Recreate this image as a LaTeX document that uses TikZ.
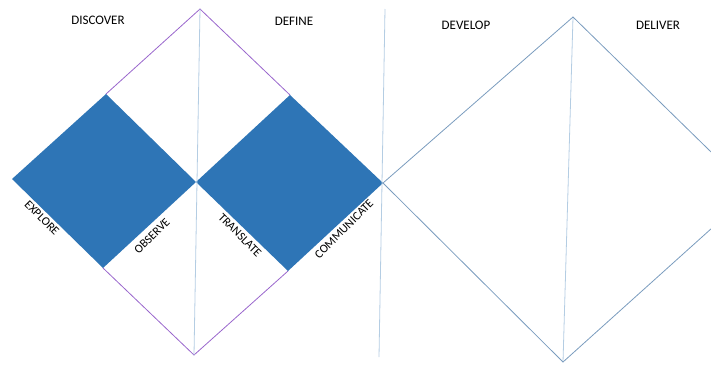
\documentclass[tikz,border=0pt]{standalone}
\usepackage{fontspec}
\setmainfont{Carlito}
\definecolor{sqblue}{HTML}{2E75B6}
\definecolor{purp}{HTML}{9966CC}
\definecolor{steel}{HTML}{7A9CBE}
\definecolor{pale}{HTML}{B4CDE3}
\tikzset{
  sq/.style={fill=sqblue},
  purpline/.style={draw=purp, line width=0.8pt},
  steelline/.style={draw=steel, line width=0.8pt},
  paleline/.style={draw=pale, line width=0.8pt},
  head/.style={font=\fontsize{13}{15}\selectfont, text=black, inner sep=0pt},
  lab/.style={font=\fontsize{12}{14}\selectfont, text=black, inner sep=0pt}
}
\begin{document}
\begin{tikzpicture}[x=1pt,y=-1pt]
\useasboundingbox (0,0) rectangle (711,365);
\clip (0,0) rectangle (711,365);
% coordinates
\coordinate (PT) at (200,9);
\coordinate (PB) at (194,355);
\coordinate (L1l) at (12,179);
\coordinate (L1t) at (106,94);
\coordinate (C1) at (196,182);
\coordinate (L1b) at (103,268);
\coordinate (R1t) at (290,95);
\coordinate (C2) at (383,183);
\coordinate (R1b) at (288,271);
\coordinate (TT) at (573,17);
\coordinate (TB) at (563,362);
\coordinate (TR) at (752,192);
\coordinate (V2t) at (385,9);
\coordinate (V2b) at (379,357);
% squares
\fill[sq] (L1l) -- (L1t) -- (C1) -- (L1b) -- cycle;
\fill[sq] (C1) -- (R1t) -- (C2) -- (R1b) -- cycle;
% purple diamond
\draw[purpline] (L1t) -- (PT) -- (R1t);
\draw[purpline] (L1b) -- (PB) -- (R1b);
% vertical lines
\draw[paleline] (PT) -- (PB);
\draw[paleline] (V2t) -- (V2b);
\draw[paleline] (TT) -- (TB);
% steel diamond
\draw[steelline] (C2) -- (TT) -- (TR) -- (TB) -- cycle;
% headings
\node[head] (h1) at (98,20) {DISCOVER};
\node[head] (h2) at (294,21) {DEFINE};
\node[head] (h3) at (466,25) {DEVELOP};
\node[head] (h4) at (658,25) {DELIVER};
% labels
\node[lab, rotate=-45] (l1) at (42,218) {EXPLORE};
\node[lab, rotate=45] (l2) at (152,236) {OBSERVE};
\node[lab, rotate=-45] (l3) at (240,235) {TRANSLATE};
\node[lab, rotate=45] (l4) at (344,229) {COMMUNICATE};
\end{tikzpicture}
\end{document}
